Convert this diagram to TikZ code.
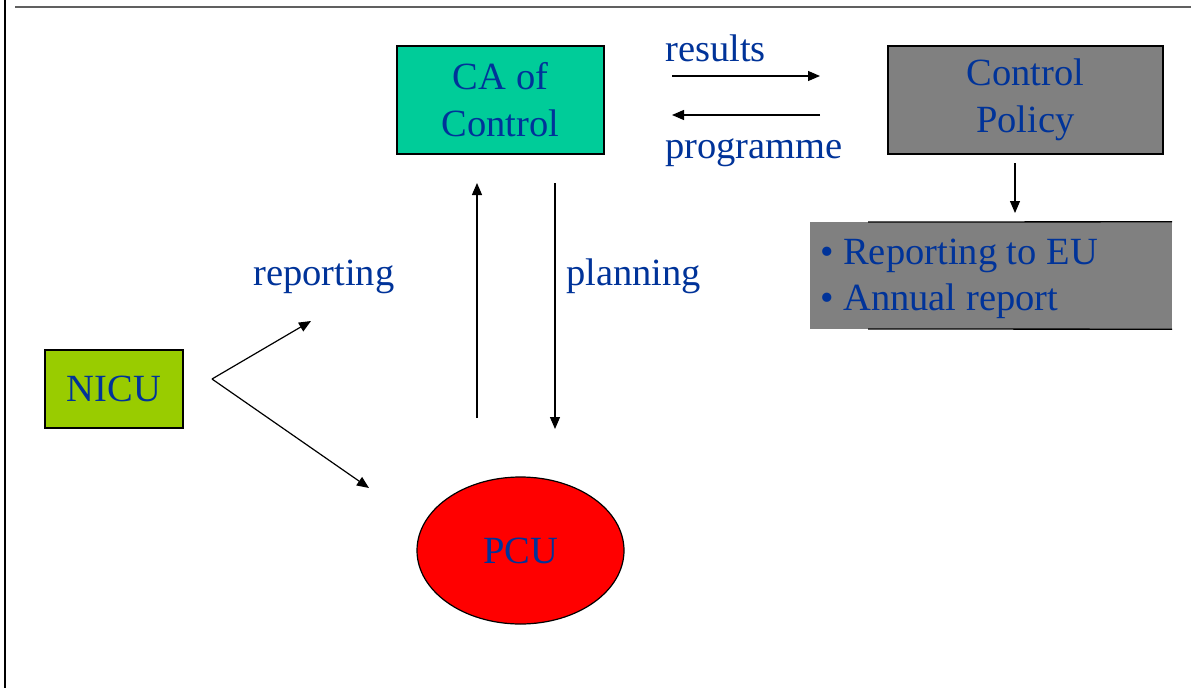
\documentclass[tikz,border=0pt]{standalone}
\usepackage{fontspec}
\setmainfont{Liberation Serif}
\usetikzlibrary{arrows.meta,shapes.geometric}
\definecolor{txt}{RGB}{0,51,153}
\definecolor{tealbox}{RGB}{0,204,153}
\definecolor{graybox}{RGB}{128,128,128}
\definecolor{greenbox}{RGB}{153,204,0}
\definecolor{topline}{RGB}{96,96,96}
\begin{document}
\begin{tikzpicture}[x=1pt,y=-1pt,
  lbl/.style={font=\fontsize{38.5}{47}\selectfont, text=txt, inner sep=0pt},
  box/.style={lbl, draw=black, line width=1.3pt, align=center},
  arr/.style={line width=1.2pt, -{Triangle[length=12pt,width=10pt]}}]
\useasboundingbox (0,0) rectangle (1191,688);
\fill[white] (0,0) rectangle (1191,688);
\draw[line width=2.2pt] (5,0) -- (5,688);
\draw[line width=2pt, topline] (15,7) -- (1191,7);

% boxes
\node[box, fill=tealbox, minimum width=207pt, minimum height=108pt] (ca) at (500.5,100) {CA of\\Control};
\node[box, fill=graybox, minimum width=275pt, minimum height=108pt] (cp) at (1025.5,100) {Control\\Policy};
\node[box, fill=greenbox, minimum width=138pt, minimum height=78pt] (nicu) at (114,389) {NICU};
\node[lbl, ellipse, draw=black, line width=1.2pt, fill=red, minimum width=207pt, minimum height=147pt] (pcu) at (520.5,550.5) {PCU};

% report box
\node[fill=graybox, inner sep=0pt, minimum width=362pt, minimum height=107pt] (rep) at (991,275.5) {};
\draw[line width=1.3pt] (868,222) -- (rep.north east);
\draw[line width=1.3pt] (868,329) -- (rep.south east);
\node[lbl, anchor=base west] (rep1) at (820,264) {• Reporting to EU};
\node[lbl, anchor=base west] (rep2) at (820,310) {• Annual report};

% labels
\node[lbl, anchor=base west] (lres) at (665,61) {results};
\node[lbl, anchor=base west] (lpro) at (665,158) {programme};
\node[lbl, anchor=base west] (lrep) at (253,285) {reporting};
\node[lbl, anchor=base west] (lpla) at (566,285) {planning};

% connector ends
\coordinate (resS) at (672,76);
\coordinate (resE) at (820,76);
\coordinate (proS) at (820,115);
\coordinate (proE) at (672,115);
\coordinate (cpS) at (1015,163);
\coordinate (repN) at (1015,213);
\coordinate (upS) at (477,418);
\coordinate (upE) at (477,183);
\coordinate (dnS) at (555,183);
\coordinate (dnE) at (555,429);
\coordinate (fork) at (212,379);
\coordinate (forkA) at (311,321);
\coordinate (forkB) at (369,488);

\draw[arr] (resS) -- (resE);
\draw[arr] (proS) -- (proE);
\draw[arr] (cpS) -- (repN);
\draw[arr] (upS) -- (upE);
\draw[arr] (dnS) -- (dnE);
\draw[arr] (fork) -- (forkA);
\draw[arr] (fork) -- (forkB);
\end{tikzpicture}
\end{document}
